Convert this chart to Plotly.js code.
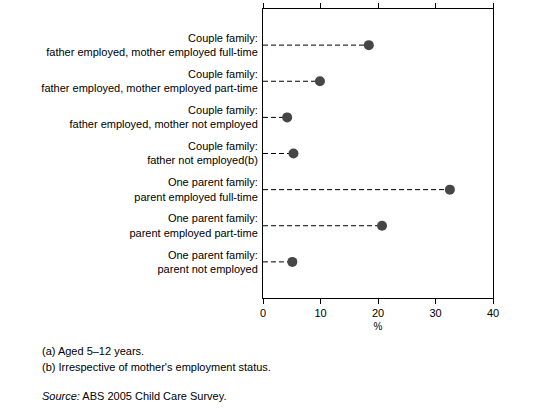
<!DOCTYPE html>
<html>
<head>
<meta charset="utf-8">
<script src="https://cdn.plot.ly/plotly-3.0.1.min.js"></script>
<style>
  html, body { margin: 0; padding: 0; background: #fff; }
  #chart { width: 545px; height: 412px; }
</style>
</head>
<body>
<div id="chart"></div>
<script>
const familyTypes = [
  "Couple family:<br>father employed, mother employed full-time",
  "Couple family:<br>father employed, mother employed part-time",
  "Couple family:<br>father employed, mother not employed",
  "Couple family:<br>father not employed(b)",
  "One parent family:<br>parent employed full-time",
  "One parent family:<br>parent employed part-time",
  "One parent family:<br>parent not employed"
];
const percent = [18.4, 9.9, 4.2, 5.3, 32.5, 20.7, 5.1];
const xTicks = [0, 10, 20, 30, 40];

const footnotes = [
  "(a) Aged 5\u201312 years.",
  "(b) Irrespective of mother's employment status."
];
const source = "<i>Source:</i> ABS 2005 Child Care Survey.";

// dashed leader from zero to each dot
const lineX = [];
const lineY = [];
familyTypes.forEach((cat, i) => {
  lineX.push(0, percent[i], null);
  lineY.push(cat, cat, null);
});

const leaders = {
  x: lineX,
  y: lineY,
  type: "scatter",
  mode: "lines",
  line: { color: "#000", width: 1, dash: "5px,3px" },
  hoverinfo: "skip",
  showlegend: false
};

const dots = {
  x: percent,
  y: familyTypes,
  type: "scatter",
  mode: "markers",
  marker: { color: "#464646", size: 10 },
  showlegend: false
};

const font = { family: "Liberation Sans, Arial, sans-serif", size: 11, color: "#000" };
const noteX = -223 / 230; // 40px from left edge, plot starts at 263px, 230px wide

const layout = {
  width: 545,
  height: 412,
  margin: { l: 263, r: 52, t: 9, b: 114 },
  paper_bgcolor: "#fff",
  plot_bgcolor: "#fff",
  font: font,
  showlegend: false,
  xaxis: {
    range: [0, 40],
    tickvals: xTicks,
    ticks: "outside",
    ticklen: 5,
    tickcolor: "#000",
    tickfont: { family: font.family, size: 11, color: "#000" },
    showline: true,
    linecolor: "#000",
    linewidth: 1,
    mirror: "ticks",
    showgrid: false,
    zeroline: false,
    title: { text: "%", font: { family: font.family, size: 10, color: "#000" }, standoff: 4 }
  },
  yaxis: {
    type: "category",
    categoryarray: familyTypes,
    range: [7, -1],
    showline: true,
    linecolor: "#000",
    linewidth: 1,
    mirror: true,
    ticks: "",
    showgrid: false,
    zeroline: false,
    tickfont: font,
    ticklabelstandoff: 2
  },
  annotations: [
    { text: footnotes[0], xref: "paper", yref: "paper", x: noteX, y: 0, yshift: -45, xanchor: "left", yanchor: "top", showarrow: false, font: font, align: "left" },
    { text: footnotes[1], xref: "paper", yref: "paper", x: noteX, y: 0, yshift: -61, xanchor: "left", yanchor: "top", showarrow: false, font: font, align: "left" },
    { text: source, xref: "paper", yref: "paper", x: noteX, y: 0, yshift: -90, xanchor: "left", yanchor: "top", showarrow: false, font: font, align: "left" }
  ]
};

Plotly.newPlot("chart", [leaders, dots], layout, { staticPlot: true, displayModeBar: false });
</script>
</body>
</html>
